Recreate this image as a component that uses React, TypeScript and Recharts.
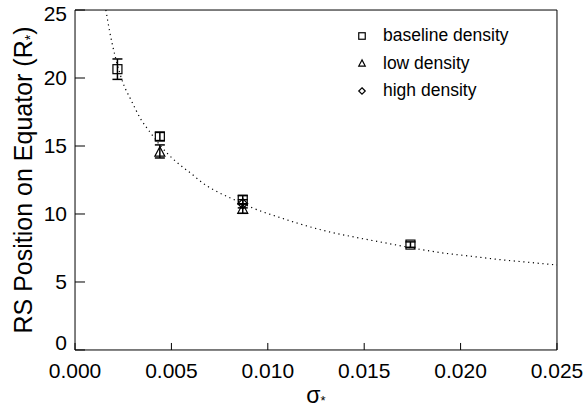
import React from 'react';
import { ScatterChart, Scatter, XAxis, YAxis, ErrorBar, Legend } from 'recharts';

// axis ticks
const xMajor = [0, 0.005, 0.01, 0.015, 0.02, 0.025];
const xMinor = [
  0, 0.001, 0.002, 0.003, 0.004, 0.005, 0.006, 0.007, 0.008, 0.009, 0.01, 0.011, 0.012,
  0.013, 0.014, 0.015, 0.016, 0.017, 0.018, 0.019, 0.02, 0.021, 0.022, 0.023, 0.024, 0.025,
];
const yMajor = [0, 5, 10, 15, 20, 25];
const yMinor = [0, 1, 2, 3, 4, 5, 6, 7, 8, 9, 10, 11, 12, 13, 14, 15, 16, 17, 18, 19, 20, 21, 22, 23, 24, 25];

// baseline density
const baseSigma = [0.0022, 0.0044, 0.0087, 0.0174];
const baseRs = [20.65, 15.7, 11.05, 7.75];
const baseErr = [0.75, 0.3, 0.3, 0.2];

// low density
const lowSigma = [0.0044, 0.0087];
const lowRs = [14.6, 10.4];
const lowErr = [0.48, 0.35];

// high density
const highSigma = [0.0087];
const highRs = [10.75];
const highErr = [0.3];

const legendNames = ['baseline density', 'low density', 'high density'];

// dotted fit curve
const fitSigma = [
  0.0016, 0.0018, 0.0021, 0.0025, 0.0029, 0.0034, 0.0039, 0.0045, 0.0052, 0.006, 0.0068,
  0.0075, 0.0085, 0.0092, 0.0105, 0.0116, 0.013, 0.0145, 0.016, 0.0175, 0.019, 0.0205,
  0.022, 0.0235, 0.025,
];
const fitRs = [
  25.0, 23.4, 21.5, 19.6, 18.4, 17.0, 16.0, 14.9, 13.9, 13.0, 12.1,
  11.55, 10.9, 10.45, 9.8, 9.3, 8.75, 8.3, 7.9, 7.5, 7.15, 6.9,
  6.65, 6.45, 6.25,
];

const toPts = (xs: number[], ys: number[], es?: number[]) =>
  xs.map((x, i) => ({ x, y: ys[i], err: es ? es[i] : 0 }));

// no serif face is installed here, so use the Arial-metric one
const FONT = "'Liberation Sans', Arial, sans-serif";
const THIN = 0.01; // axes take no room; margins set the plot box

function Square({ cx, cy, s = 9 }: any) {
  return <rect x={cx - s / 2} y={cy - s / 2} width={s} height={s} fill="none" stroke="#000" strokeWidth={1.2} />;
}
function Triangle({ cx, cy, s = 10 }: any) {
  const h = s * 0.95;
  return (
    <polygon
      points={`${cx},${cy - h / 2} ${cx - s / 2},${cy + h / 2} ${cx + s / 2},${cy + h / 2}`}
      fill="none"
      stroke="#000"
      strokeWidth={1.2}
    />
  );
}
function Diamond({ cx, cy, s = 10 }: any) {
  const r = s / 2;
  return (
    <polygon
      points={`${cx},${cy - r} ${cx + r},${cy} ${cx},${cy + r} ${cx - r},${cy}`}
      fill="none"
      stroke="#000"
      strokeWidth={1.2}
    />
  );
}

const legendIcons: Record<string, any> = {
  'baseline density': Square,
  'low density': Triangle,
  'high density': Diamond,
};

function renderLegend(props: any) {
  const payload: any[] = props.payload || [];
  const entries = legendNames.filter((n) => payload.some((p) => p.value === n));
  return (
    <div style={{ fontFamily: FONT, fontSize: 17.5, color: '#000' }}>
      {entries.map((name) => {
        const Icon = legendIcons[name];
        return (
          <div key={name} style={{ display: 'flex', alignItems: 'center', height: 27.5, lineHeight: '27.5px' }}>
            <svg width={20} height={12} style={{ display: 'block' }}>
              <Icon cx={10} cy={6} s={6.5} />
            </svg>
            <span style={{ marginLeft: 11 }}>{name}</span>
          </div>
        );
      })}
    </div>
  );
}

// y tick labels: end labels sit slightly inside the frame, as in the source plot
function YTick({ x, y, payload }: any) {
  const v = payload.value;
  const nudge = v === 0 ? -7 : v === 25 ? 4 : 0;
  return (
    <text x={x} y={y + nudge} dy="0.35em" textAnchor="end" fontFamily={FONT} fontSize={21} fill="#000">
      {v}
    </text>
  );
}

function XTick({ x, y, payload }: any) {
  return (
    <text x={x} y={y} dy="0.71em" textAnchor="middle" fontFamily={FONT} fontSize={21} fill="#000">
      {payload.value.toFixed(3)}
    </text>
  );
}

function YTitle({ viewBox }: any) {
  const cx = viewBox.x - 43;
  const cy = viewBox.y + viewBox.height / 2;
  return (
    <text
      x={cx}
      y={cy}
      transform={`rotate(-90 ${cx} ${cy})`}
      textAnchor="middle"
      fontFamily={FONT}
      fontSize={25}
      fill="#000"
    >
      RS Position on Equator (R
      <tspan fontSize={14} dy={3}>*</tspan>
      <tspan dy={-3}>)</tspan>
    </text>
  );
}

function XTitle({ viewBox }: any) {
  const cx = viewBox.x + viewBox.width / 2;
  const cy = viewBox.y + 53;
  return (
    <text x={cx} y={cy} textAnchor="middle" fontFamily={FONT} fontSize={23} fill="#000">
      σ<tspan fontSize={13} dy={2}>*</tspan>
    </text>
  );
}

const axisLine = { stroke: '#000', strokeWidth: 1 };
const tickLine = { stroke: '#000', strokeWidth: 1 };

export default function App() {
  return (
    <div style={{ position: 'absolute', left: 0, top: 0, background: '#fff' }}>
      <ScatterChart width={584} height={412} margin={{ top: 10, right: 27, bottom: 62, left: 75 }}>
        {/* bottom axis, labelled */}
        <XAxis
          xAxisId="x"
          dataKey="x"
          type="number"
          domain={[0, 0.025]}
          allowDataOverflow
          ticks={xMajor}
          interval={0}
          height={THIN}
          tickSize={-7}
          tickMargin={20}
          tick={<XTick />}
          axisLine={axisLine}
          tickLine={tickLine}
          label={<XTitle />}
        />
        <XAxis xAxisId="xb2" type="number" domain={[0, 0.025]} allowDataOverflow ticks={xMinor} interval={0}
          height={THIN} tickSize={-3.5} tick={false} axisLine={false} tickLine={tickLine} />
        {/* top axis */}
        <XAxis xAxisId="xt" orientation="top" type="number" domain={[0, 0.025]} allowDataOverflow ticks={xMajor}
          interval={0} height={THIN} tickSize={-7} tick={false} axisLine={axisLine} tickLine={tickLine} />
        <XAxis xAxisId="xt2" orientation="top" type="number" domain={[0, 0.025]} allowDataOverflow ticks={xMinor}
          interval={0} height={THIN} tickSize={-3.5} tick={false} axisLine={false} tickLine={tickLine} />
        {/* left axis, labelled */}
        <YAxis
          yAxisId="y"
          dataKey="y"
          type="number"
          domain={[0, 25]}
          allowDataOverflow
          ticks={yMajor}
          interval={0}
          width={THIN}
          tickSize={-10}
          tickMargin={18}
          tick={<YTick />}
          axisLine={axisLine}
          tickLine={tickLine}
          label={<YTitle />}
        />
        <YAxis yAxisId="yl2" type="number" domain={[0, 25]} allowDataOverflow ticks={yMinor} interval={0}
          width={THIN} tickSize={-5} tick={false} axisLine={false} tickLine={tickLine} />
        {/* right axis */}
        <YAxis yAxisId="yr" orientation="right" type="number" domain={[0, 25]} allowDataOverflow ticks={yMajor}
          interval={0} width={THIN} tickSize={-10} tick={false} axisLine={axisLine} tickLine={tickLine} />
        <YAxis yAxisId="yr2" orientation="right" type="number" domain={[0, 25]} allowDataOverflow ticks={yMinor}
          interval={0} width={THIN} tickSize={-5} tick={false} axisLine={false} tickLine={tickLine} />

        <Legend
          layout="vertical"
          align="center"
          verticalAlign="middle"
          content={renderLegend}
          wrapperStyle={{ left: 352, top: 22, width: 200 }}
        />

        <Scatter
          name="fit"
          xAxisId="x"
          yAxisId="y"
          data={toPts(fitSigma, fitRs)}
          line={{ stroke: '#000', strokeWidth: 1.2, strokeDasharray: '1.2 3.6' }}
          lineJointType="monotoneX"
          shape={() => <g />}
          legendType="none"
          isAnimationActive={false}
        />
        <Scatter
          name="baseline density"
          xAxisId="x"
          yAxisId="y"
          data={toPts(baseSigma, baseRs, baseErr)}
          shape={(p: any) => <Square cx={p.cx} cy={p.cy} />}
          isAnimationActive={false}
        >
          <ErrorBar dataKey="err" direction="y" width={5} stroke="#000" strokeWidth={1.5} isAnimationActive={false} />
        </Scatter>
        <Scatter
          name="low density"
          xAxisId="x"
          yAxisId="y"
          data={toPts(lowSigma, lowRs, lowErr)}
          shape={(p: any) => <Triangle cx={p.cx} cy={p.cy} />}
          isAnimationActive={false}
        >
          <ErrorBar dataKey="err" direction="y" width={5} stroke="#000" strokeWidth={1.5} isAnimationActive={false} />
        </Scatter>
        <Scatter
          name="high density"
          xAxisId="x"
          yAxisId="y"
          data={toPts(highSigma, highRs, highErr)}
          shape={(p: any) => <Diamond cx={p.cx} cy={p.cy} />}
          isAnimationActive={false}
        >
          <ErrorBar dataKey="err" direction="y" width={5} stroke="#000" strokeWidth={1.5} isAnimationActive={false} />
        </Scatter>
      </ScatterChart>
    </div>
  );
}
